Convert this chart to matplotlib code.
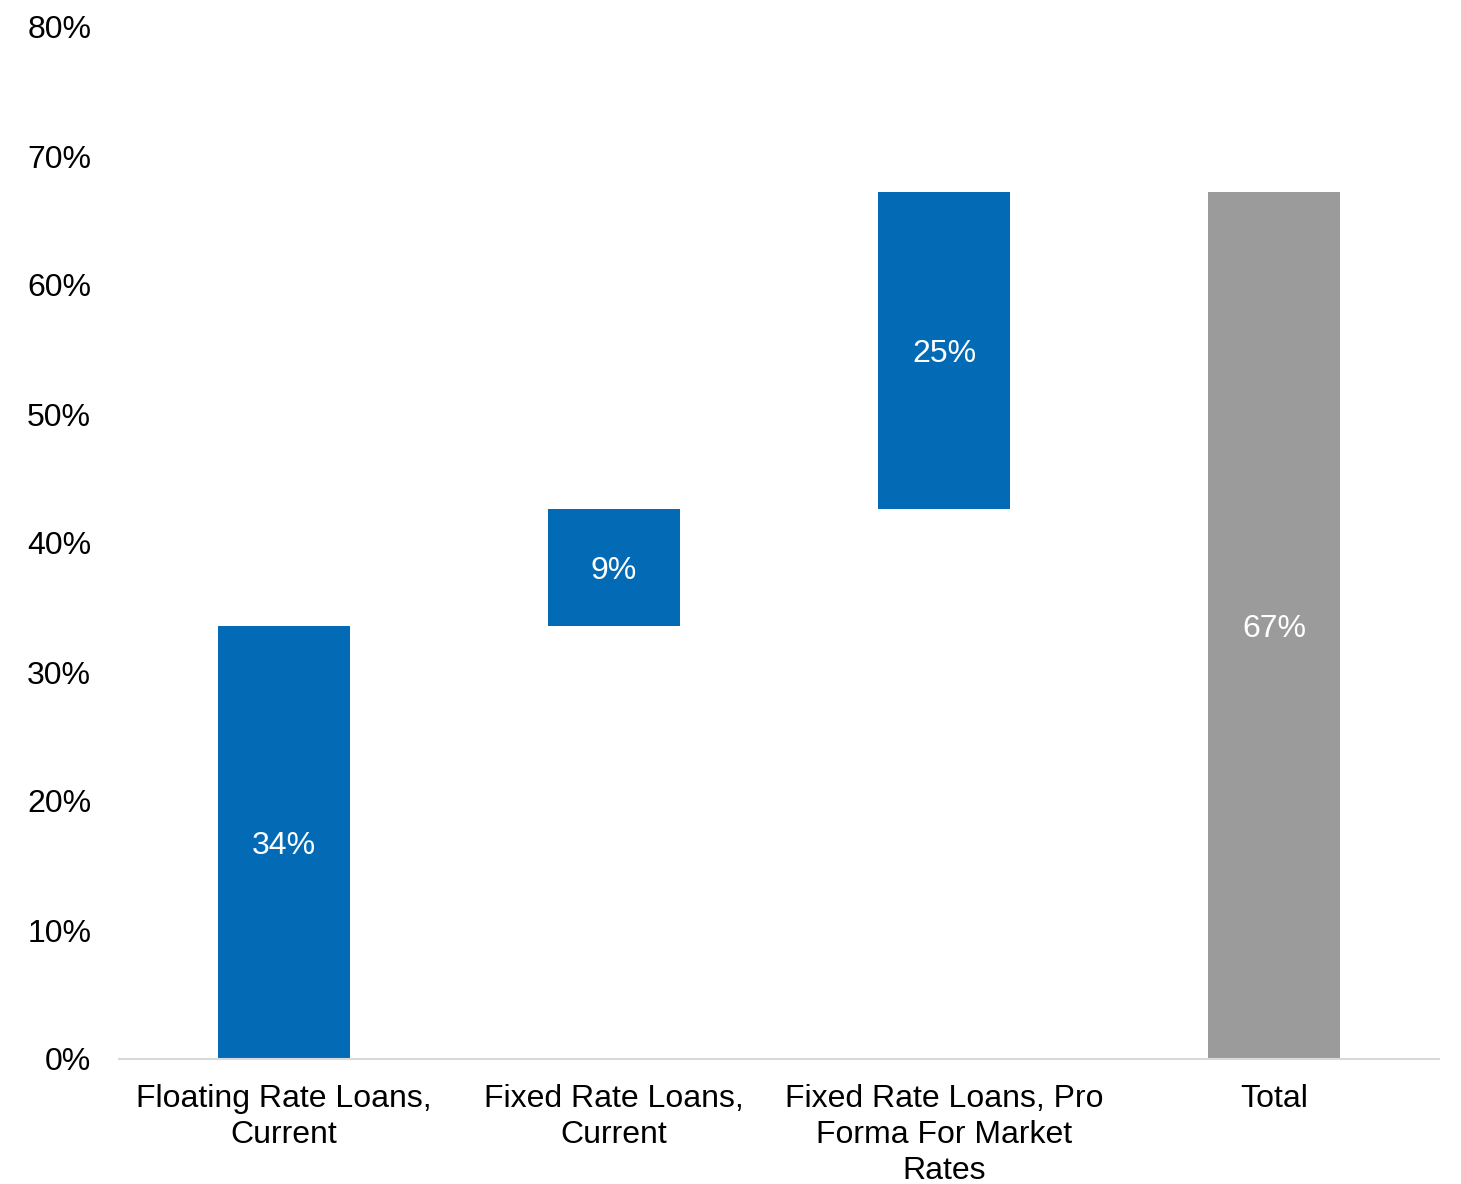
import matplotlib.pyplot as plt
from matplotlib.ticker import FuncFormatter

plt.rcParams['font.family'] = ['Liberation Sans', 'DejaVu Sans']

# Waterfall components (percent of loans) and the resulting total
categories = ['Floating Rate Loans,\nCurrent', 'Fixed Rate Loans,\nCurrent',
              'Fixed Rate Loans, Pro\nForma For Market\nRates', 'Total']
steps = [33.6, 9.0, 24.6]
total = sum(steps)

BLUE = '#036BB5'
GREY = '#9B9B9B'

bottoms = []
running = 0.0
for s in steps:
    bottoms.append(running)
    running += s

heights = steps + [total]
bottoms = bottoms + [0.0]
colors = [BLUE] * len(steps) + [GREY]

fig = plt.figure(figsize=(14.61, 11.84), dpi=100)
ax = fig.add_axes([119 / 1461, 1 - 1059 / 1184, 1320 / 1461, (1059 - 27) / 1184])

x = range(len(categories))
ax.bar(x, heights, bottom=bottoms, width=0.4, color=colors, zorder=2)

for i, (b, h) in enumerate(zip(bottoms, heights)):
    ax.text(i, b + h / 2, f'{h:.0f}%', ha='center', va='center_baseline',
            color='white', fontsize=23)

ax.set_xlim(-0.5, len(categories) - 0.5)
ax.set_ylim(0, 80)
ax.set_yticks(range(0, 81, 10))
ax.yaxis.set_major_formatter(FuncFormatter(lambda v, p: f'{v:.0f}%'))
ax.set_xticks(list(x))
ax.set_xticklabels(categories, fontsize=23, linespacing=1.26)
ax.tick_params(axis='y', length=0, labelsize=23, pad=20)
ax.tick_params(axis='x', length=0, pad=18)

for side in ['left', 'right', 'top']:
    ax.spines[side].set_visible(False)
ax.spines['bottom'].set_color('#D9D9D9')
ax.spines['bottom'].set_linewidth(1.5)

fig.savefig('out.png', dpi=100)
